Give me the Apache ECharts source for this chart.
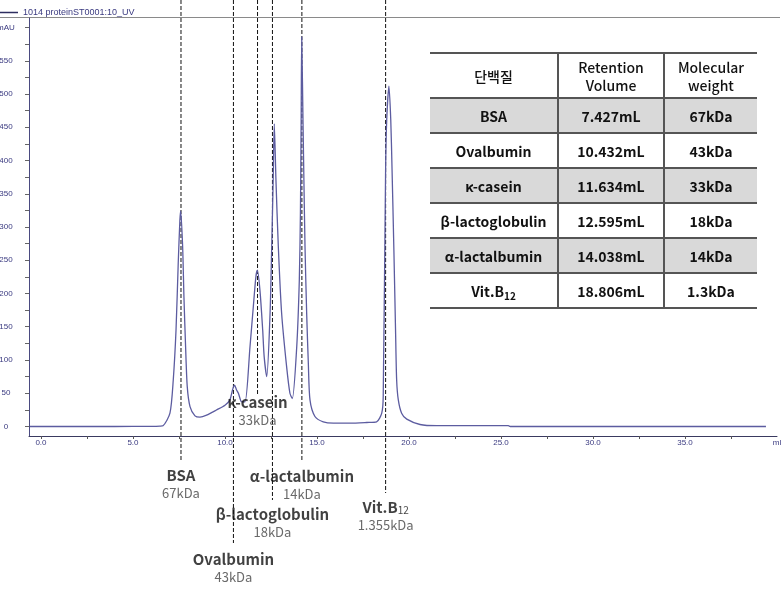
<!DOCTYPE html>
<html>
<head>
<meta charset="utf-8">
<script src="https://cdn.jsdelivr.net/npm/echarts@6/dist/echarts.min.js"></script>
<style>
  html, body { margin: 0; padding: 0; background: #fff; }
  #wrap { position: relative; width: 782px; height: 594px; }
  #chart { position: absolute; left: 0; top: 0; width: 782px; height: 594px; }
  table.std {
    position: absolute; left: 430px; top: 52px; width: 327px;
    border-collapse: collapse; font-family: "Noto Sans CJK KR", "Noto Sans", sans-serif;
    color: #111; font-size: 14px; text-align: center;
  }
  table.std td, table.std th {
    border-top: 2px solid #555; border-bottom: 2px solid #555;
    padding: 0; height: 33px; font-weight: bold;
  }
  table.std th { height: 43px; font-weight: 500; line-height: 18px; }
  table.std td + td, table.std th + th { border-left: 2px solid #555; }
  table.std tr.shade td { background: #d9d9d9; }
  table.std sub { font-size: 10px; vertical-align: -3px; line-height: 0; }
</style>
</head>
<body>
<div id="wrap">
  <div id="chart"></div>
  <table class="std" id="stdTable"></table>
</div>
<script>
// chromatogram trace (mL, mAU)
const elutionVolume = [-0.6, 2.0, 4.0, 6.0, 6.47, 6.63, 7.01, 7.19, 7.34, 7.46, 7.55, 7.59,
  7.70, 7.77, 7.86, 7.95, 8.10, 8.37, 8.64, 9.00, 9.55, 10.0, 10.27, 10.41, 10.52, 10.63, 10.73,
  10.91, 11.09, 11.36, 11.54, 11.68, 11.76, 11.90, 12.05, 12.13, 12.27, 12.45, 12.54, 12.62,
  12.68, 12.77, 12.90, 13.08, 13.35, 13.53, 13.66, 13.90, 14.04, 14.10, 14.14, 14.17, 14.24,
  14.29, 14.35, 14.44, 14.53, 14.62, 14.89, 15.34, 15.89, 16.79, 17.70, 18.24, 18.52, 18.60,
  18.73, 18.79, 18.91, 19.01, 19.08, 19.18, 19.27, 19.33, 19.42, 19.60, 19.88, 20.60, 21.50,
  25.4, 25.5, 30.0, 35.0, 39.4];
const absorbance = [0, 0, 0, 0.2, 0.5, 1, 20, 70, 145, 246, 310, 324,
  270, 195, 120, 60, 30, 16, 14, 17, 25, 32, 40, 55, 62, 55, 50,
  37, 37, 120, 180, 225, 235, 205, 145, 105, 75, 170, 270, 371,
  455, 371, 270, 170, 90, 50, 42, 120, 220, 320, 460, 586, 460,
  370, 270, 170, 95, 40, 15, 7, 5, 5, 6, 7, 20, 45,
  386, 461, 512, 461, 386, 265, 145, 70, 40, 20, 11, 3, 1.2,
  1.2, 0, 0, 0, 0];

// marked peaks (dashed lines) and their callouts
const peakNames = ['BSA', 'Ovalbumin', 'κ-casein', 'β-lactoglobulin', 'α-lactalbumin', 'Vit.B12'];
const peakVolumes = [7.61, 10.46, 11.77, 12.58, 14.18, 18.73];
const peakMasses = ['67kDa', '43kDa', '33kDa', '18kDa', '14kDa', '1.355kDa'];

// standards table
const tableHeader = ['단백질', 'Retention<br>Volume', 'Molecular<br>weight'];
const tableProteins = ['BSA', 'Ovalbumin', 'κ-casein', 'β-lactoglobulin', 'α-lactalbumin', 'Vit.B12'];
const tableVolumes = ['7.427mL', '10.432mL', '11.634mL', '12.595mL', '14.038mL', '18.806mL'];
const tableWeights = ['67kDa', '43kDa', '33kDa', '18kDa', '14kDa', '1.3kDa'];

// axis ticks
const xTickLabels = [0, 5, 10, 15, 20, 25, 30, 35, 40];
const xTickMarks = [0, 2.5, 5, 7.5, 10, 12.5, 15, 17.5, 20, 22.5, 25, 27.5, 30, 32.5, 35, 37.5];
const yTickLabels = [0, 50, 100, 150, 200, 250, 300, 350, 400, 450, 500, 550, 600];
const yTickMarks = [0, 25, 50, 75, 100, 125, 150, 175, 200, 225, 250, 275, 300, 325, 350, 375,
  400, 425, 450, 475, 500, 525, 550, 575, 600];

const traceName = '1014 proteinST0001:10_UV';

// layout of the callouts below / inside the plot (overlay grid, pixel rows)
const lineEnd = [460, 543, 395, 500, 462, 493];
const textRow = [484, 568, 411, 523, 485, 516];

const X_MIN = -0.65, X_MAX = 40.0;

function subName(name, tag) {
  const m = name.match(/^(Vit\.B)(\d+)$/);
  if (!m) return tag === 'html' ? name : '{b|' + name + '}';
  return tag === 'html' ? m[1] + '<sub>' + m[2] + '</sub>' : '{b|' + m[1] + '}{sub|' + m[2] + '}';
}

// build the table
(function () {
  let html = '<tr>' + tableHeader.map(h => '<th>' + h + '</th>').join('') + '</tr>';
  tableProteins.forEach((p, i) => {
    html += '<tr' + (i % 2 === 0 ? ' class="shade"' : '') + '>' +
      '<td style="width:127px">' + subName(p, 'html') + '</td>' +
      '<td style="width:104px">' + tableVolumes[i] + '</td>' +
      '<td>' + tableWeights[i] + '</td></tr>';
  });
  document.getElementById('stdTable').innerHTML = html;
})();

const chart = echarts.init(document.getElementById('chart'));

const dashSeries = peakVolumes.map((v, i) => ({
  type: 'line',
  xAxisIndex: 1,
  yAxisIndex: 1,
  silent: true,
  symbol: 'none',
  data: [[v, 0], [v, lineEnd[i]]],
  lineStyle: { color: '#111', width: 1, type: [4, 2] },
  z: 3
}));

chart.setOption({
  animation: false,
  textStyle: { fontFamily: 'Liberation Sans, Arial, sans-serif' },
  legend: {
    data: [traceName],
    left: 0,
    top: 8,
    padding: 0,
    icon: 'rect',
    itemWidth: 18,
    itemHeight: 1.5,
    itemStyle: { color: '#2e2e60', borderWidth: 0 },
    textStyle: { fontSize: 9, color: '#3a3a80' }
  },
  grid: [
    { left: 29, right: 5, top: 18, bottom: 158, outerBoundsMode: 'none', containLabel: false },
    { left: 29, right: 5, top: 0, bottom: 0, outerBoundsMode: 'none', containLabel: false }
  ],
  xAxis: [
    {
      type: 'value',
      gridIndex: 0,
      min: X_MIN,
      max: X_MAX,
      splitLine: { show: false },
      axisLine: { onZero: false, lineStyle: { color: '#3a3a60', width: 1 } },
      axisTick: { customValues: xTickMarks, length: 3, lineStyle: { color: '#555' } },
      axisLabel: {
        customValues: xTickLabels,
        margin: 3,
        fontSize: 8,
        color: '#3a3a80',
        formatter: v => (v === 40 ? 'ml' : v.toFixed(1))
      }
    },
    { type: 'value', gridIndex: 1, min: X_MIN, max: X_MAX, show: false }
  ],
  yAxis: [
    {
      type: 'value',
      gridIndex: 0,
      min: -14.3,
      max: 614.3,
      splitLine: { show: false },
      axisLine: { onZero: false, lineStyle: { color: '#4a4a80', width: 1 } },
      axisTick: { customValues: yTickMarks, length: 4, lineStyle: { color: '#666' } },
      axisLabel: {
        customValues: yTickLabels,
        margin: 23,
        align: 'center',
        fontSize: 8,
        color: '#3a3a80',
        formatter: v => (v === 600 ? 'mAU' : String(v))
      }
    },
    { type: 'value', gridIndex: 1, min: 0, max: 594, inverse: true, show: false }
  ],
  graphic: [
    {
      type: 'line',
      shape: { x1: 0, y1: 17.5, x2: 780, y2: 17.5 },
      style: { stroke: '#8a8a8a', lineWidth: 1 },
      silent: true
    }
  ],
  series: [
    {
      name: traceName,
      type: 'line',
      xAxisIndex: 0,
      yAxisIndex: 0,
      symbol: 'none',
      smooth: 0.25,
      data: elutionVolume.map((v, i) => [v, absorbance[i]]),
      lineStyle: { color: '#5c5ca0', width: 1.3 },
      itemStyle: { color: '#3a3a80' },
      z: 4
    },
    ...dashSeries,
    {
      type: 'scatter',
      xAxisIndex: 1,
      yAxisIndex: 1,
      silent: true,
      symbolSize: 0,
      data: peakVolumes.map((v, i) => ({ value: [v, textRow[i]], name: peakNames[i] })),
      label: {
        show: true,
        position: 'inside',
        align: 'center',
        formatter: p => subName(p.name, 'rich') + '\n{s|' + peakMasses[p.dataIndex] + '}',
        rich: {
          b: { fontFamily: 'Noto Sans CJK KR', fontSize: 15, fontWeight: 'bold', color: '#111', lineHeight: 18, align: 'center' },
          sub: { fontFamily: 'Noto Sans CJK KR', fontSize: 10, color: '#111', lineHeight: 18, padding: [7, 0, 0, 0] },
          s: { fontFamily: 'Noto Sans CJK KR', fontSize: 13, color: '#444', lineHeight: 18, align: 'center' }
        }
      },
      z: 6
    }
  ]
});
</script>
</body>
</html>
